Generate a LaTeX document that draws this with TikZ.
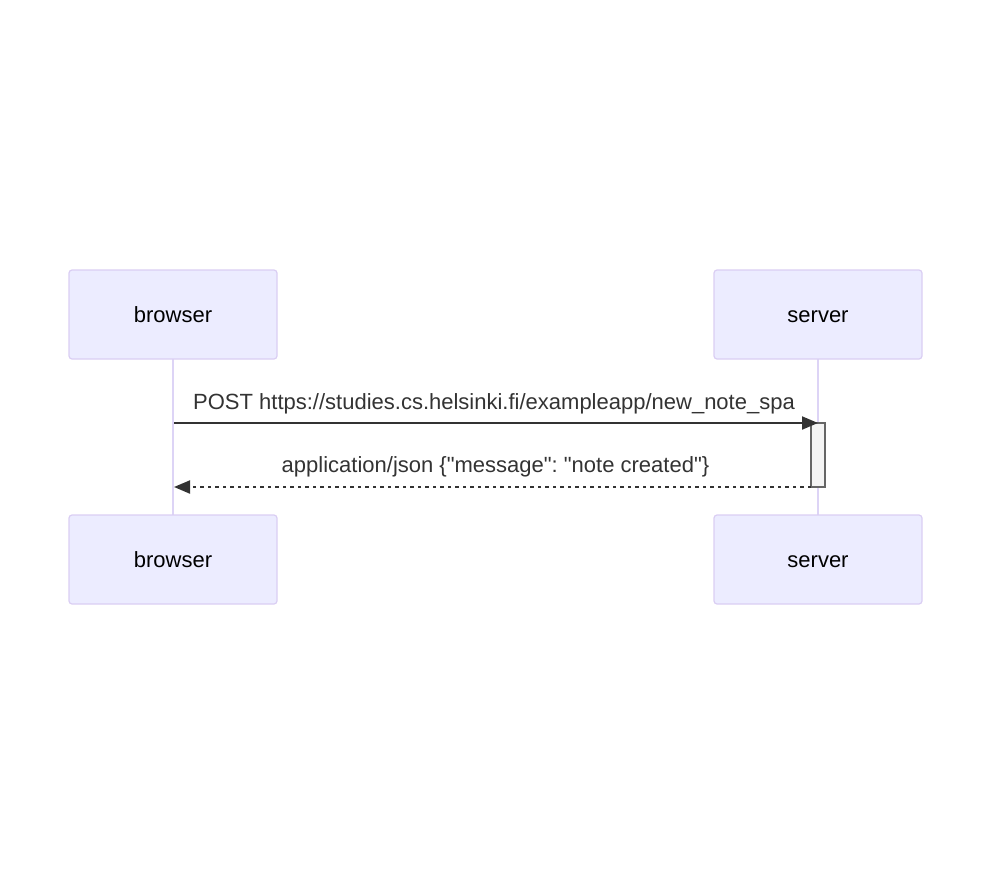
\documentclass[tikz,border=0pt]{standalone}
\usepackage{fontspec}
\setmainfont{Liberation Sans}[Ligatures=TeXOff]
\usetikzlibrary{arrows.meta}
\definecolor{actfill}{HTML}{ECECFF}
\definecolor{actline}{HTML}{DACEF3}
\definecolor{lifeln}{HTML}{DDD4F6}
\definecolor{msgtxt}{HTML}{333333}
\definecolor{actvfill}{HTML}{F4F4F4}
\definecolor{actvline}{HTML}{666666}
\frenchspacing
\tikzset{
  actor/.style={draw=actline, fill=actfill, line width=1.2pt, rounded corners=3pt,
    minimum width=208pt, minimum height=89pt, inner sep=0pt},
  lifeline/.style={draw=lifeln, line width=2.5pt},
  msglabel/.style={font=\fontsize{22pt}{26pt}\selectfont, text=msgtxt, inner sep=0pt,
    text height=15pt, text depth=4pt},
  actorlabel/.style={msglabel, text=black},
  msgarrow/.style={draw=msgtxt, line width=2pt, -{Triangle[length=16pt,width=13pt]}},
  retarrow/.style={draw=msgtxt, line width=2pt, dash pattern=on 3.5pt off 4pt, -{Triangle[length=16pt,width=13pt]}},
  activation/.style={draw=actvline, fill=actvfill, line width=1.2pt, minimum width=14pt, minimum height=64pt, inner sep=0pt}
}
\begin{document}
\begin{tikzpicture}[x=1pt,y=-1pt]
\useasboundingbox (0,0) rectangle (991,876);
% lifelines
\coordinate (bl1) at (173,359);
\coordinate (bl2) at (173,515);
\coordinate (sl1) at (818,359);
\coordinate (sl2) at (818,515);
\draw[lifeline] (bl1) -- (bl2);
\draw[lifeline] (sl1) -- (sl2);
% actors
\node[actor] (btop) at (173,314.5) {};
\node[actor] (stop) at (818,314.5) {};
\node[actor] (bbot) at (173,559.5) {};
\node[actor] (sbot) at (818,559.5) {};
\node[actorlabel] (tb1) at (173,317) {browser};
\node[actorlabel] (ts1) at (818,317) {server};
\node[actorlabel] (tb2) at (173,562) {browser};
\node[actorlabel] (ts2) at (818,562) {server};
% activation
\node[activation] (act) at (818,455) {};
% messages
\coordinate (m1s) at (174,423);
\coordinate (m1e) at (818,423);
\draw[msgarrow] (m1s) -- (m1e);
\node[msglabel] (l1) at (494,403.5) {POST https://studies.cs.helsinki.fi/exampleapp/new\_note\_spa};
\coordinate (m2s) at (811,487);
\coordinate (m2e) at (174,487);
\draw[retarrow] (m2s) -- (m2e);
\node[msglabel] (l2) at (495.5,466.5) {application/json \{"message": "note created"\}};
\end{tikzpicture}
\end{document}
